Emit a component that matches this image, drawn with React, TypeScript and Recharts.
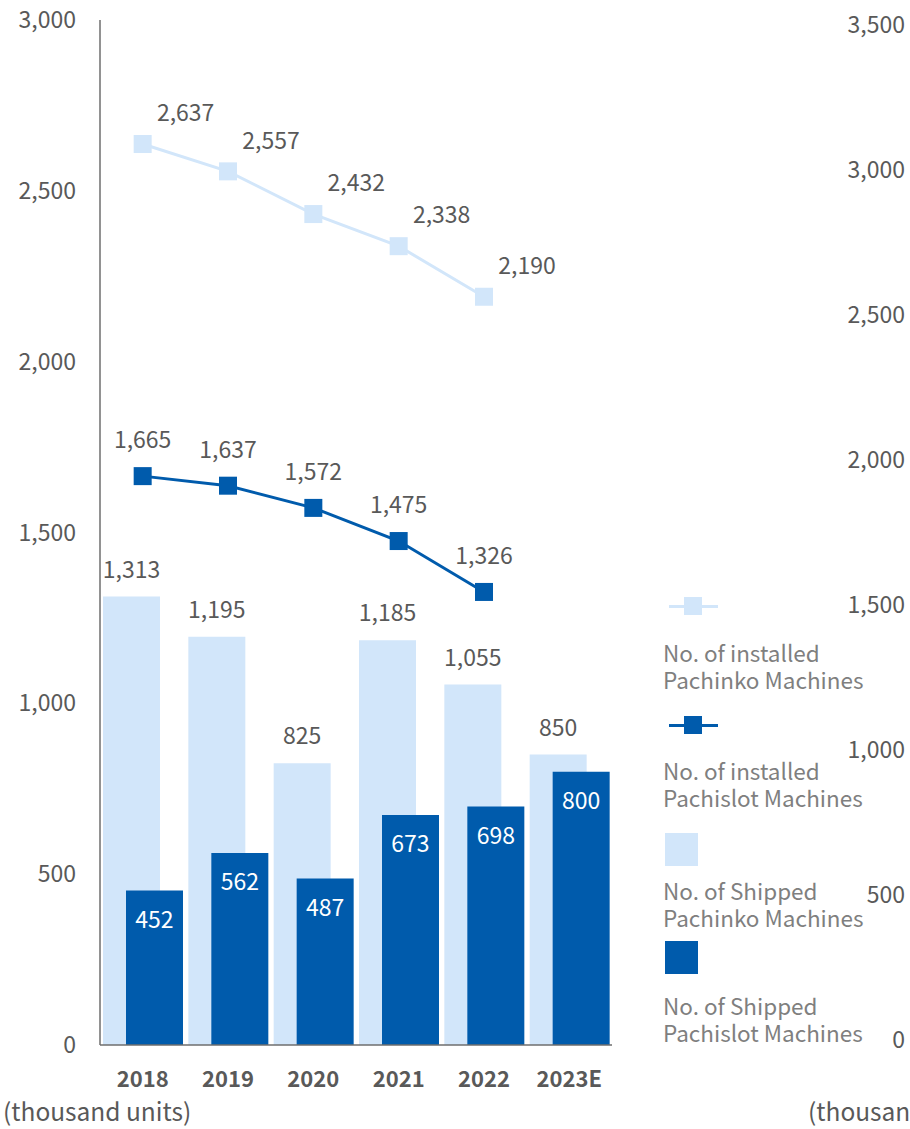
import React from "react";
import {
  Bar,
  ComposedChart,
  LabelList,
  Legend,
  Line,
  XAxis,
  YAxis,
} from "recharts";

const years = ["2018", "2019", "2020", "2021", "2022", "2023E"];
const shippedPachinko = [1313, 1195, 825, 1185, 1055, 850];
const shippedPachislot = [452, 562, 487, 673, 698, 800];
const installedPachinko = [2637, 2557, 2432, 2338, 2190, null];
const installedPachislot = [1665, 1637, 1572, 1475, 1326, null];
const leftTicks = [0, 500, 1000, 1500, 2000, 2500, 3000];
const rightTicks = [0, 500, 1000, 1500, 2000, 2500, 3000, 3500];
const unitLabel = "(thousand units)";

const data = years.map((year, i) => ({
  year,
  shippedPachinko: shippedPachinko[i],
  shippedPachislot: shippedPachislot[i],
  installedPachinko: installedPachinko[i],
  installedPachislot: installedPachislot[i],
}));

const LIGHT = "#D2E6FA";
const DARK = "#005BAC";
const TEXT = "#595959";
const FONT = '"Noto Sans CJK JP", "Noto Sans", sans-serif';
const fmt = (v: any) => Number(v).toLocaleString("en-US");

const SquareDot = (color: string) => (props: any) => {
  const { cx, cy, index } = props;
  if (cx == null || cy == null || props.value == null) return <g key={index} />;
  return <rect key={index} x={cx - 9} y={cy - 9} width={18} height={18} fill={color} />;
};

const makeLabel = (dx: number, dy: number, color: string, centerOnBar: boolean) => (props: any) => {
  const { x, y, width, value } = props;
  if (value == null) return null;
  const cx = centerOnBar ? x + width / 2 : x;
  return (
    <text
      x={cx + dx}
      y={y + dy}
      dy="0.36em"
      textAnchor="middle"
      fill={color}
      fontSize={23}
      fontFamily={FONT}
    >
      {fmt(value)}
    </text>
  );
};

const RightTick = (props: any) => {
  const { x, y, payload } = props;
  const shift = -5 + (payload.value * 10) / 3500;
  return (
    <text x={x} y={y + shift} dy="0.36em" textAnchor="end" fill={TEXT} fontSize={23} fontFamily={FONT}>
      {fmt(payload.value)}
    </text>
  );
};

const legendItems = [
  { kind: "line", color: LIGHT, lines: ["No. of installed", "Pachinko Machines"] },
  { kind: "line", color: DARK, lines: ["No. of installed", "Pachislot Machines"] },
  { kind: "box", color: LIGHT, lines: ["No. of Shipped", "Pachinko Machines"] },
  { kind: "box", color: DARK, lines: ["No. of Shipped", "Pachislot Machines"] },
];

// icon centre and first text line centre, relative to legend top (590)
const legendSlots = [
  { icon: 16, text: 62 },
  { icon: 135, text: 180 },
  { icon: 259, text: 300 },
  { icon: 367, text: 415 },
];

const LegendContent = () => (
  <div style={{ position: "relative", width: 250, height: 470, fontFamily: FONT }}>
    {legendItems.map((item, i) => {
      const slot = legendSlots[i];
      return (
        <React.Fragment key={i}>
          {item.kind === "line" ? (
            <div style={{ position: "absolute", left: 9, top: slot.icon - 9, width: 49, height: 18 }}>
              <div style={{ position: "absolute", left: 0, top: 7.5, width: 49, height: 3, background: item.color }} />
              <div style={{ position: "absolute", left: 15, top: 0, width: 18, height: 18, background: item.color }} />
            </div>
          ) : (
            <div
              style={{
                position: "absolute",
                left: 5,
                top: slot.icon - 16.5,
                width: 33,
                height: 33,
                background: item.color,
              }}
            />
          )}
          <div
            style={{
              position: "absolute",
              left: 3,
              top: slot.text - 13.5,
              lineHeight: "27px",
              fontSize: 22.5,
              color: "#7F7F7F",
              whiteSpace: "nowrap",
            }}
          >
            {item.lines[0]}
            <br />
            {item.lines[1]}
          </div>
        </React.Fragment>
      );
    })}
  </div>
);

const App = () => {
  return (
    <div style={{ position: "absolute", left: 0, top: 0, background: "#fff" }}>
      <ComposedChart
        width={910}
        height={1129}
        data={data}
        margin={{ top: 20, right: 0, left: 0, bottom: 0 }}
        barGap={-34}
      >
        <XAxis
          dataKey="year"
          height={84}
          tickLine={false}
          tickSize={0}
          tickMargin={26}
          axisLine={{ stroke: "#6E6E6E", strokeWidth: 1.5 }}
          tick={{ fill: TEXT, fontSize: 22, fontWeight: 700, fontFamily: FONT }}
        />
        <YAxis
          yAxisId="left"
          width={100}
          domain={[0, 3000]}
          ticks={leftTicks}
          tickLine={false}
          tickSize={0}
          tickMargin={24}
          tickFormatter={fmt}
          axisLine={{ stroke: "#6E6E6E", strokeWidth: 1.5 }}
          tick={{ fill: TEXT, fontSize: 23, fontFamily: FONT }}
          label={{
            content: () => (
              <text x={3} y={1112} dy="0.36em" fill={TEXT} fontSize={24.5} fontFamily={FONT}>
                {unitLabel}
              </text>
            ),
          }}
        />
        <YAxis
          yAxisId="right"
          orientation="right"
          width={298}
          domain={[0, 3500]}
          allowDataOverflow
          ticks={rightTicks}
          tickLine={false}
          tickSize={0}
          tickMargin={293}
          axisLine={false}
          tick={<RightTick />}
          label={{
            content: () => (
              <text x={808} y={1112} dy="0.36em" fill={TEXT} fontSize={24.5} fontFamily={FONT}>
                {unitLabel}
              </text>
            ),
          }}
        />
        <Legend
          layout="horizontal"
          align="center"
          verticalAlign="middle"
          content={<LegendContent />}
          wrapperStyle={{ position: "absolute", left: 660, top: 590, width: 250, height: 470 }}
        />
        <Bar yAxisId="left" dataKey="shippedPachinko" fill={LIGHT} barSize={57} isAnimationActive={false}>
          <LabelList dataKey="shippedPachinko" content={makeLabel(0, -27, TEXT, true)} />
        </Bar>
        <Bar yAxisId="left" dataKey="shippedPachislot" fill={DARK} barSize={57} isAnimationActive={false}>
          <LabelList dataKey="shippedPachislot" content={makeLabel(0, 29, "#FFFFFF", true)} />
        </Bar>
        <Line
          yAxisId="left"
          dataKey="installedPachinko"
          stroke={LIGHT}
          strokeWidth={3}
          dot={SquareDot(LIGHT)}
          activeDot={false}
          isAnimationActive={false}
        >
          <LabelList dataKey="installedPachinko" content={makeLabel(43, -31, TEXT, false)} />
        </Line>
        <Line
          yAxisId="left"
          dataKey="installedPachislot"
          stroke={DARK}
          strokeWidth={3}
          dot={SquareDot(DARK)}
          activeDot={false}
          isAnimationActive={false}
        >
          <LabelList dataKey="installedPachislot" content={makeLabel(0, -36, TEXT, false)} />
        </Line>
      </ComposedChart>
    </div>
  );
};

export default App;
